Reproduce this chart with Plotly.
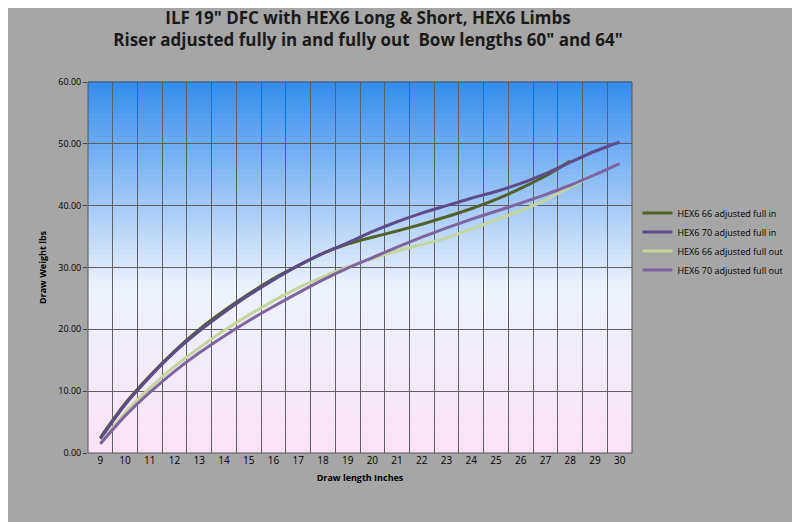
import plotly.graph_objects as go

draw_len = list(range(9, 31))
hex66_in = [2.5, 8, 12.5, 16.5, 20, 23, 25.7, 28.2, 30.3, 32.3, 33.8, 34.9, 35.9, 37, 38.2, 39.5, 41, 42.8, 44.8, 47.2]
hex70_in = [2.3, 7.8, 12.3, 16.3, 19.7, 22.7, 25.5, 28, 30.3, 32.3, 34, 35.8, 37.4, 38.8, 40, 41.2, 42.3, 43.6, 45.2, 47, 48.8, 50.3]
hex66_out = [1.5, 6.5, 10.5, 14, 17, 19.8, 22.3, 24.6, 26.7, 28.5, 30.1, 31.4, 32.7, 33.7, 34.8, 36.2, 37.7, 39.2, 40.9, 43, 45]
hex70_out = [1.5, 6, 9.8, 13.2, 16.2, 18.9, 21.4, 23.7, 25.9, 28, 29.9, 31.6, 33.3, 34.9, 36.4, 37.8, 39.1, 40.4, 41.8, 43.3, 45, 46.8]

series = [
    ("HEX6 66 adjusted full in", hex66_in, "#4F6228"),
    ("HEX6 70 adjusted full in", hex70_in, "#5F4B8B"),
    ("HEX6 66 adjusted full out", hex66_out, "#C3D69B"),
    ("HEX6 70 adjusted full out", hex70_out, "#8064A2"),
]

fig = go.Figure()
for name, vals, col in series:
    fig.add_trace(go.Scatter(x=draw_len[:len(vals)], y=vals, name=name, mode="lines",
                             line=dict(color=col, width=3, shape="spline", smoothing=0.6)))

# vertical gradient background: blue top -> white -> pink bottom
stops = [(0.0, (250, 226, 246)), (0.45, (236, 242, 252)), (1.0, (52, 140, 238))]
def col_at(t):
    for (t0, c0), (t1, c1) in zip(stops, stops[1:]):
        if t0 <= t <= t1:
            f = (t - t0) / (t1 - t0)
            return "rgb(%d,%d,%d)" % tuple(round(a + (b - a) * f) for a, b in zip(c0, c1))
n = 60
shapes = []
for i in range(n):
    shapes.append(dict(type="rect", xref="paper", yref="paper", x0=0, x1=1,
                       y0=i / n, y1=(i + 1) / n + 0.002, line=dict(width=0),
                       fillcolor=col_at((i + 0.5) / n), layer="below"))
shapes.append(dict(type="rect", xref="paper", yref="paper", x0=0, x1=1, y0=0, y1=1,
                   line=dict(color="#555555", width=1)))

fig.update_layout(
    width=800, height=522,
    paper_bgcolor="#A6A6A6", plot_bgcolor="rgba(0,0,0,0)",
    margin=dict(l=80, r=176, t=74, b=77),
    shapes=shapes,
    font=dict(family="Open Sans, sans-serif", size=10, color="black"),
    title=dict(text="<b>ILF 19\" DFC with HEX6 Long & Short, HEX6 Limbs<br>Riser adjusted fully in and fully out  Bow lengths 60\" and 64\"</b>",
               x=0.45, xanchor="center", y=0.97, yanchor="top",
               font=dict(size=17, color="#1A1A1A")),
    legend=dict(x=1.01, y=0.57, xanchor="left", yanchor="middle", bgcolor="rgba(0,0,0,0)",
                font=dict(size=9), tracegroupgap=0),
    xaxis=dict(range=[8.5, 30.5], tickvals=draw_len, showgrid=False, zeroline=False,
               ticks="", showline=False, tickfont=dict(size=10),
               minor=dict(tick0=8.5, dtick=1, showgrid=True, gridcolor="#606060", gridwidth=1),
               title=dict(text="<b>Draw length Inches</b>", font=dict(size=9), standoff=8)),
    yaxis=dict(range=[0, 60], dtick=10, tickformat=".2f", showgrid=True,
               gridcolor="#606060", zeroline=False, ticks="outside", ticklen=4,
               tickfont=dict(size=9),
               title=dict(text="<b>Draw Weight lbs</b>", font=dict(size=9), standoff=10)),
)

fig.write_html("out.html")
